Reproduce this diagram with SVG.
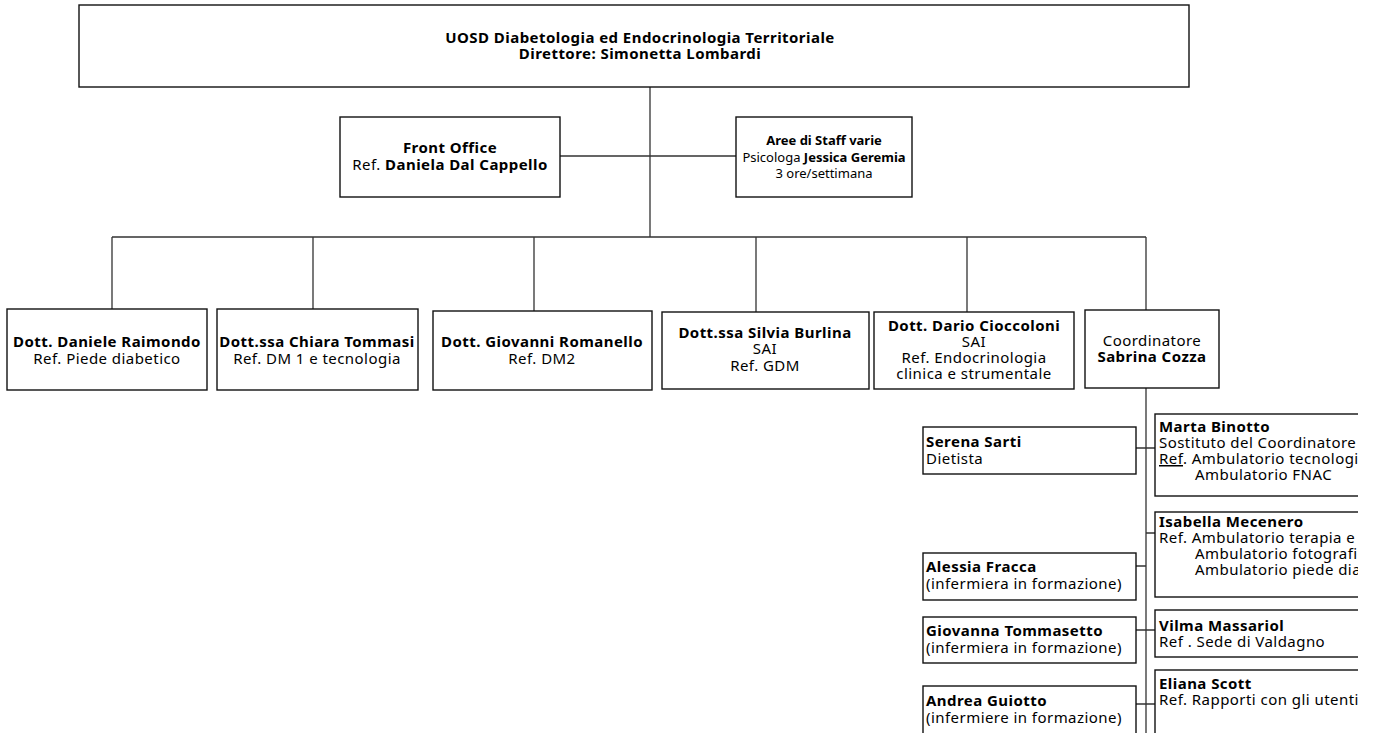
<svg xmlns="http://www.w3.org/2000/svg" width="1377" height="733" viewBox="0 0 1377 733">
<style>
.box{fill:#fff;stroke:#111;stroke-width:1.4}
.ln{stroke:#333;stroke-width:1.3;fill:none}
text{font-family:"Noto Sans","Open Sans",sans-serif;font-size:15px;letter-spacing:0.45px;fill:#000}
.b{font-weight:bold}
.c{text-anchor:middle}
.s{font-size:13px;letter-spacing:0}
</style>
<defs>
<clipPath id="clipR"><rect x="0" y="0" width="1358" height="733"/></clipPath>
</defs>
<g id="connectors">
<path class="ln" d="M650,87V237M560,156H736M112,237H1146M112,237V309M313,237V309M534,237V311M756,237V312M967,237V312M1146,237V310M1146,388V733"/>
<path class="ln" d="M1136,448H1155M1146,533H1155M1136,566H1146M1136,630H1155M1136,704H1155"/>
</g>
<g id="n-top"><rect class="box" x="79" y="5" width="1110" height="82"/>
<text class="b c" x="640" y="43">UOSD Diabetologia ed Endocrinologia Territoriale</text>
<text class="b c" x="640" y="59">Direttore: Simonetta Lombardi</text></g>
<g id="n-front"><rect class="box" x="340" y="117" width="220" height="80"/>
<text class="b c" x="450" y="153">Front Office</text>
<text class="c" x="450" y="170">Ref. <tspan class="b">Daniela Dal Cappello</tspan></text></g>
<g id="n-staff"><rect class="box" x="736" y="117" width="176" height="80"/>
<text class="b c s" x="824" y="145">Aree di Staff varie</text>
<text class="c s" x="824" y="162">Psicologa <tspan class="b">Jessica Geremia</tspan></text>
<text class="c s" x="824" y="178">3 ore/settimana</text></g>
<g id="n-raimondo"><rect class="box" x="7" y="309" width="200" height="81"/>
<text class="b c" x="107" y="347">Dott. Daniele Raimondo</text>
<text class="c" x="107" y="364">Ref. Piede diabetico</text></g>
<g id="n-tommasi"><rect class="box" x="217" y="309" width="201" height="81"/>
<text class="b c" x="317" y="347">Dott.ssa Chiara Tommasi</text>
<text class="c" x="317" y="364">Ref. DM 1 e tecnologia</text></g>
<g id="n-romanello"><rect class="box" x="433" y="311" width="219" height="79"/>
<text class="b c" x="542" y="347">Dott. Giovanni Romanello</text>
<text class="c" x="542" y="364">Ref. DM2</text></g>
<g id="n-burlina"><rect class="box" x="662" y="312" width="207" height="77"/>
<text class="b c" x="765" y="338">Dott.ssa Silvia Burlina</text>
<text class="c" x="765" y="354">SAI</text>
<text class="c" x="765" y="371">Ref. GDM</text></g>
<g id="n-cioccoloni"><rect class="box" x="874" y="312" width="200" height="77"/>
<text class="b c" x="974" y="331">Dott. Dario Cioccoloni</text>
<text class="c" x="974" y="347">SAI</text>
<text class="c" x="974" y="363">Ref. Endocrinologia</text>
<text class="c" x="974" y="379">clinica e strumentale</text></g>
<g id="n-cozza"><rect class="box" x="1085" y="310" width="134" height="78"/>
<text class="c" x="1152" y="346">Coordinatore</text>
<text class="b c" x="1152" y="362">Sabrina Cozza</text></g>
<g id="n-sarti"><rect class="box" x="923" y="427" width="213" height="47"/>
<text class="b" x="926" y="447">Serena Sarti</text>
<text x="926" y="464">Dietista</text></g>
<g id="n-fracca"><rect class="box" x="923" y="553" width="213" height="47"/>
<text class="b" x="926" y="572">Alessia Fracca</text>
<text x="926" y="589">(infermiera in formazione)</text></g>
<g id="n-tommasetto"><rect class="box" x="923" y="617" width="213" height="46"/>
<text class="b" x="926" y="636">Giovanna Tommasetto</text>
<text x="926" y="653">(infermiera in formazione)</text></g>
<g id="n-guiotto"><rect class="box" x="923" y="686" width="213" height="60"/>
<text class="b" x="926" y="706">Andrea Guiotto</text>
<text x="926" y="723">(infermiere in formazione)</text></g>
<g clip-path="url(#clipR)">
<g id="n-binotto"><rect class="box" x="1155" y="414" width="240" height="82"/>
<text class="b" x="1159" y="432">Marta Binotto</text>
<text x="1159" y="448">Sostituto del Coordinatore</text>
<text x="1159" y="464"><tspan text-decoration="underline">Ref</tspan>. Ambulatorio tecnologi</text>
<text x="1195" y="480">Ambulatorio FNAC</text></g>
<g id="n-mecenero"><rect class="box" x="1155" y="512" width="240" height="85"/>
<text class="b" x="1159" y="527">Isabella Mecenero</text>
<text x="1159" y="543">Ref. Ambulatorio terapia e</text>
<text x="1195" y="559">Ambulatorio fotografi</text>
<text x="1195" y="575">Ambulatorio piede dia</text></g>
<g id="n-massariol"><rect class="box" x="1155" y="610" width="240" height="47"/>
<text class="b" x="1159" y="631">Vilma Massariol</text>
<text x="1159" y="647">Ref . Sede di Valdagno</text></g>
<g id="n-scott"><rect class="box" x="1155" y="670" width="240" height="80"/>
<text class="b" x="1159" y="689">Eliana Scott</text>
<text x="1159" y="705">Ref. Rapporti con gli utenti</text></g>
</g>
</svg>
